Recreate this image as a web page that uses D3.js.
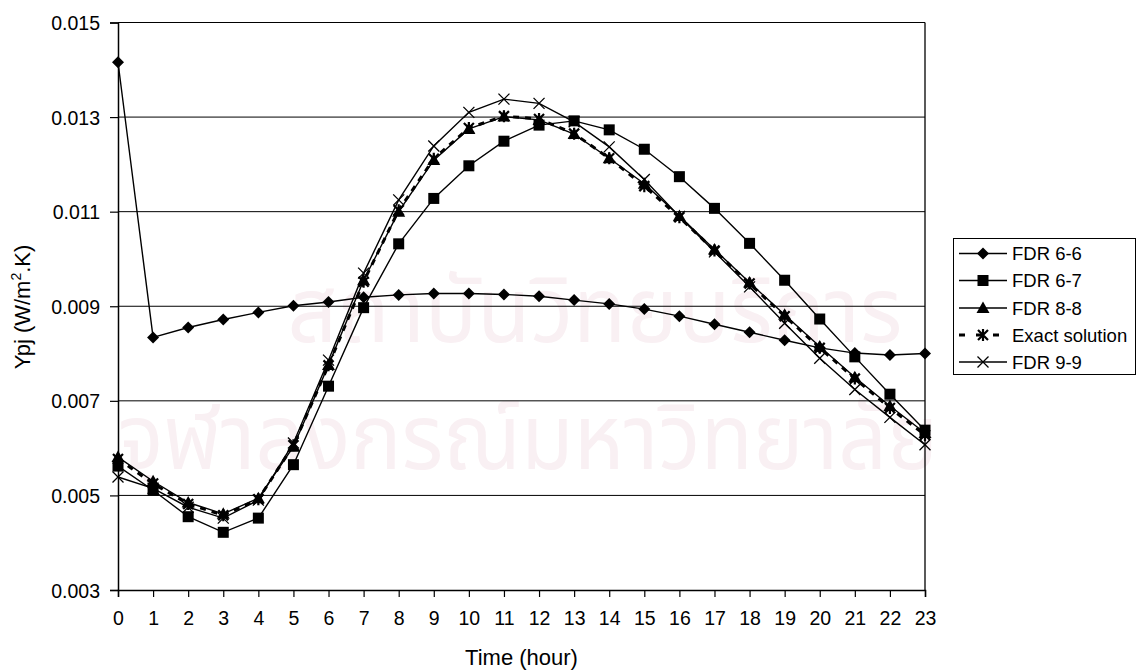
<!DOCTYPE html>
<html>
<head>
<meta charset="utf-8">
<script src="https://cdn.jsdelivr.net/npm/d3@7"></script>
<style>
  body { margin: 0; background: #fff; }
  svg { display: block; font-family: "Liberation Sans", Arial, sans-serif; }
</style>
</head>
<body>
<svg id="chart" width="1141" height="672"></svg>
<script>
const hours = d3.range(0, 24);
const yTicks = [0.003, 0.005, 0.007, 0.009, 0.011, 0.013, 0.015];

const fdr66 = [0.01416, 0.00834, 0.00855, 0.00872, 0.00887, 0.00901, 0.00909, 0.00919, 0.00924, 0.00927, 0.00927, 0.00925, 0.00921, 0.00913, 0.00905, 0.00894, 0.00879, 0.00862, 0.00845, 0.00828, 0.00812, 0.00801, 0.00797, 0.00800];
const fdr67 = [0.00562, 0.00511, 0.00455, 0.00422, 0.00452, 0.00565, 0.00731, 0.00897, 0.01032, 0.01128, 0.01197, 0.01249, 0.01283, 0.01292, 0.01273, 0.01232, 0.01174, 0.01107, 0.01033, 0.00955, 0.00873, 0.00793, 0.00714, 0.00638];
const fdr88 = [0.00581, 0.00530, 0.00485, 0.00461, 0.00494, 0.00603, 0.00776, 0.00955, 0.01100, 0.01209, 0.01275, 0.01301, 0.01294, 0.01264, 0.01213, 0.01159, 0.01091, 0.01020, 0.00950, 0.00882, 0.00815, 0.00750, 0.00689, 0.00632];
const exact = [0.00577, 0.00525, 0.00482, 0.00458, 0.00492, 0.00606, 0.00775, 0.00952, 0.01103, 0.01212, 0.01277, 0.01302, 0.01296, 0.01265, 0.01213, 0.01154, 0.01088, 0.01018, 0.00948, 0.00879, 0.00812, 0.00747, 0.00685, 0.00628];
const fdr99 = [0.00539, 0.00515, 0.00475, 0.00452, 0.00490, 0.00611, 0.00786, 0.00970, 0.01125, 0.01239, 0.01310, 0.01338, 0.01329, 0.01290, 0.01237, 0.01168, 0.01090, 0.01015, 0.00941, 0.00864, 0.00790, 0.00724, 0.00665, 0.00607];

const seriesNames = ["FDR 6-6", "FDR 6-7", "FDR 8-8", "Exact solution", "FDR 9-9"];
const seriesValues = [fdr66, fdr67, fdr88, exact, fdr99];
const seriesMarkers = ["diamond", "square", "triangle", "star", "cross"];

const svg = d3.select("#chart");
svg.append("rect").attr("width", 1141).attr("height", 672).attr("fill", "#fff");

// faint background watermark
const wm = svg.append("g").attr("fill", "#f9f0f3").attr("font-family", "'Noto Sans Thai', 'Noto Sans', 'DejaVu Sans', sans-serif");
wm.append("text").attr("x", 595).attr("y", 342).attr("text-anchor", "middle")
  .attr("font-size", 92).attr("textLength", 615).attr("lengthAdjust", "spacingAndGlyphs").text("สถาบันวิทยบริการ");
wm.append("text").attr("x", 528).attr("y", 469).attr("text-anchor", "middle")
  .attr("font-size", 92).attr("textLength", 820).attr("lengthAdjust", "spacingAndGlyphs").text("จุฬาลงกรณ์มหาวิทยาลัย");

const L = 118, R = 925, T = 22.5, B = 590;
const x = d3.scaleLinear().domain([0, 23]).range([L, R]);
const y = d3.scaleLinear().domain([0.003, 0.015]).range([B, T]);

// gridlines
svg.append("g").selectAll("line").data(yTicks.filter(t => t > 0.003)).join("line")
  .attr("x1", L).attr("x2", R).attr("y1", d => y(d)).attr("y2", d => y(d))
  .attr("stroke", "#000").attr("stroke-width", 1);
// right border
svg.append("line").attr("x1", R).attr("x2", R).attr("y1", T).attr("y2", B).attr("stroke", "#000").attr("stroke-width", 1.3);

// axes
const yAxis = svg.append("g").attr("transform", `translate(${L},0)`)
  .call(d3.axisLeft(y).tickValues(yTicks).tickFormat(d3.format(".3f")).tickSize(8).tickPadding(10));
const xAxis = svg.append("g").attr("transform", `translate(0,${B})`)
  .call(d3.axisBottom(x).tickValues(hours).tickFormat(d3.format("d")).tickSize(7).tickPadding(14));
[yAxis, xAxis].forEach(a => {
  a.select(".domain").attr("stroke", "#000").attr("stroke-width", 1.5);
  a.selectAll(".tick line").attr("stroke", "#000").attr("stroke-width", 1.2);
  a.selectAll(".tick text").attr("fill", "#000").attr("font-size", 19.5)
    .attr("font-family", "'Liberation Sans', Arial, sans-serif");
});
yAxis.selectAll(".tick text").attr("dy", "0.36em");

// axis titles
svg.append("text").attr("x", (L + R) / 2).attr("y", 665).attr("text-anchor", "middle")
  .attr("font-size", 22).text("Time (hour)");
const yt = svg.append("text").attr("transform", "translate(30,307) rotate(-90)")
  .attr("text-anchor", "middle").attr("font-size", 22);
yt.append("tspan").text("Ypj (W/m");
yt.append("tspan").attr("font-size", 14).attr("dy", -9).text("2");
yt.append("tspan").attr("dy", 9).text(".K)");

// marker drawing
function drawMarker(g, type, cx, cy) {
  if (type === "diamond") {
    g.append("path").attr("d", `M${cx},${cy-6}L${cx+6},${cy}L${cx},${cy+6}L${cx-6},${cy}Z`).attr("fill", "#000");
  } else if (type === "square") {
    g.append("rect").attr("x", cx - 5.5).attr("y", cy - 5.5).attr("width", 11).attr("height", 11).attr("fill", "#000");
  } else if (type === "triangle") {
    g.append("path").attr("d", `M${cx},${cy-6.5}L${cx+6.5},${cy+5}L${cx-6.5},${cy+5}Z`).attr("fill", "#000");
  } else if (type === "cross") {
    g.append("path").attr("d", `M${cx-5.5},${cy-5.5}L${cx+5.5},${cy+5.5}M${cx+5.5},${cy-5.5}L${cx-5.5},${cy+5.5}`)
      .attr("stroke", "#000").attr("stroke-width", 1.3).attr("fill", "none");
  } else if (type === "star") {
    g.append("path").attr("d", `M${cx-5},${cy-5}L${cx+5},${cy+5}M${cx+5},${cy-5}L${cx-5},${cy+5}M${cx},${cy-6}L${cx},${cy+6}`)
      .attr("stroke", "#000").attr("stroke-width", 2.2).attr("fill", "none");
  }
}

const line = d3.line().x((d, i) => x(hours[i])).y(d => y(d));
seriesValues.forEach((vals, si) => {
  const g = svg.append("g");
  const isExact = seriesNames[si] === "Exact solution";
  g.append("path").attr("d", line(vals)).attr("fill", "none").attr("stroke", "#000")
    .attr("stroke-width", isExact ? 3 : 1.4)
    .attr("stroke-dasharray", isExact ? "6,6" : null);
  vals.forEach((v, i) => drawMarker(g, seriesMarkers[si], x(hours[i]), y(v)));
});

// legend
const leg = svg.append("g");
leg.append("rect").attr("x", 953.5).attr("y", 238.5).attr("width", 182).attr("height", 136)
  .attr("fill", "#fff").attr("stroke", "#000").attr("stroke-width", 1);
const legY = [253.5, 280.5, 308, 335, 362];
seriesNames.forEach((name, i) => {
  const gy = legY[i];
  const g = leg.append("g");
  if (name === "Exact solution") {
    g.append("line").attr("x1", 959).attr("x2", 1007).attr("y1", gy).attr("y2", gy)
      .attr("stroke", "#000").attr("stroke-width", 3).attr("stroke-dasharray", "6,11");
  } else {
    g.append("line").attr("x1", 959).attr("x2", 1007).attr("y1", gy).attr("y2", gy)
      .attr("stroke", "#000").attr("stroke-width", 1.4);
  }
  drawMarker(g, seriesMarkers[i], 983, gy);
  g.append("text").attr("x", 1012).attr("y", gy).attr("dy", "0.36em").attr("font-size", 18.5).text(name);
});
</script>
</body>
</html>
